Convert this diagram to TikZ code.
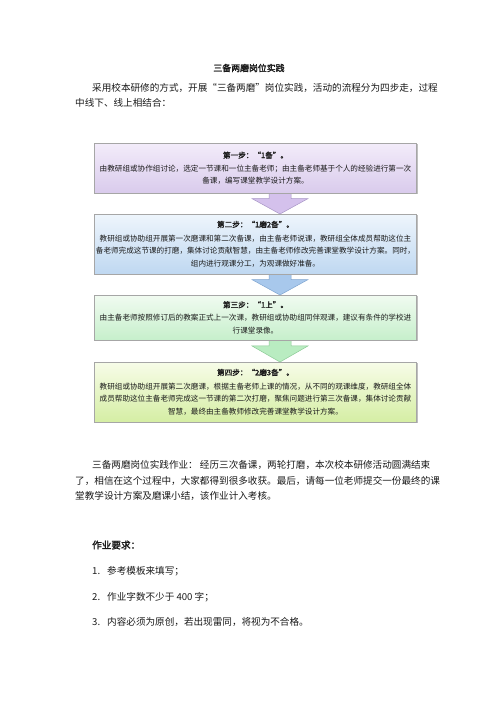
\documentclass[tikz,border=0pt]{standalone}
\usepackage{fontspec}
\setmainfont{Noto Sans CJK SC}[AutoFakeBold=2]
\usetikzlibrary{shadows,calc}
\definecolor{boxgray}{HTML}{A6A6A6}
\definecolor{pTop}{HTML}{F3ECFA}
\definecolor{pBot}{HTML}{D9CBEC}
\definecolor{bTop}{HTML}{EEF5FC}
\definecolor{bBot}{HTML}{BFD8F1}
\definecolor{gTop}{HTML}{F1FBF1}
\definecolor{gBot}{HTML}{C6EFCB}
\definecolor{yTop}{HTML}{F7FCE8}
\definecolor{yBot}{HTML}{D5EEA4}
\definecolor{pArr}{HTML}{D4C1EC}
\definecolor{pArrL}{HTML}{A896C6}
\definecolor{bArr}{HTML}{A8C8EC}
\definecolor{bArrL}{HTML}{7FA5D0}
\definecolor{gArr}{HTML}{B9ECC1}
\definecolor{gArrL}{HTML}{8CCB96}
\definecolor{txt}{HTML}{1A1A1A}
\newcommand{\blockarrow}[5]{%
  \filldraw[fill=#4, draw=#5, line width=0.5pt]
    (#1-11,#2) -- (#1+11,#2) -- (#1+11,#2+0.33*#3-0.33*#2) -- (#1+28,#2+0.33*#3-0.33*#2)
    -- (#1,#3) -- (#1-28,#2+0.33*#3-0.33*#2) -- (#1-11,#2+0.33*#3-0.33*#2) -- cycle;}
\begin{document}
\begin{tikzpicture}[x=1pt,y=-1pt,
  stepbox/.style={draw=boxgray, line width=0.5pt, minimum width=322pt, inner sep=0pt,
    align=center, text=txt, font=\fontsize{7.6}{12.5}\selectfont,
    drop shadow={shadow xshift=1.3pt, shadow yshift=-1.3pt, fill=black, opacity=0.25}},
  body/.style={anchor=west, inner sep=0pt, text=txt, font=\fontsize{9.6}{12}\selectfont},
  ttl/.style={anchor=center, inner sep=0pt, text=txt, font=\fontsize{8.9}{11}\selectfont\bfseries}]
\useasboundingbox[fill=white] (0,0) rectangle (496,702);

\node[ttl] (title) at (249,68) {三备两磨岗位实践};
\node[body] (p1) at (92,88) {采用校本研修的方式，开展“三备两磨”岗位实践，活动的流程分为四步走，过程};
\node[body] (p2) at (75,103) {中线下、线上相结合：};

% arrows (drawn behind the boxes)
\blockarrow{280}{191}{214}{pArr}{pArrL}
\blockarrow{280}{272}{295}{bArr}{bArrL}
\blockarrow{280}{338}{362}{gArr}{gArrL}

\node[stepbox, minimum height=50pt, top color=pTop, bottom color=pBot] (b1) at (255.5,168)
 {\textbf{第一步：“1备”。}\\[0.5pt]
  由教研组或协作组讨论，选定一节课和一位主备老师；由主备老师基于个人的经验进行第一次\\
  备课，编写课堂教学设计方案。};
\node[stepbox, minimum height=60pt, top color=bTop, bottom color=bBot] (b2) at (255.5,244)
 {\textbf{第二步：“1磨2备”。}\\[1.5pt]
  教研组或协助组开展第一次磨课和第二次备课，由主备老师说课，教研组全体成员帮助这位主\\
  备老师完成这节课的打磨，集体讨论贡献智慧，由主备老师修改完善课堂教学设计方案。同时，\\
  组内进行观课分工，为观课做好准备。};
\node[stepbox, minimum height=45pt, top color=gTop, bottom color=gBot] (b3) at (255.5,317.5)
 {\textbf{第三步：“1上”。}\\[0.5pt]
  由主备老师按照修订后的教案正式上一次课，教研组或协助组同伴观课，建议有条件的学校进\\
  行课堂录像。};
\node[stepbox, minimum height=60pt, top color=yTop, bottom color=yBot] (b4) at (255.5,392)
 {\textbf{第四步：“2磨3备”。}\\[1.5pt]
  教研组或协助组开展第二次磨课，根据主备老师上课的情况，从不同的观课维度，教研组全体\\
  成员帮助这位主备老师完成这一节课的第二次打磨，聚焦问题进行第三次备课，集体讨论贡献\\
  智慧，最终由主备教师修改完善课堂教学设计方案。};

\node[body] (q1) at (92,465) {三备两磨岗位实践作业： 经历三次备课，两轮打磨，本次校本研修活动圆满结束};
\node[body] (q2) at (75,481) {了，相信在这个过程中，大家都得到很多收获。最后，请每一位老师提交一份最终的课};
\node[body] (q3) at (75,496) {堂教学设计方案及磨课小结，该作业计入考核。};

\node[body, font=\fontsize{9.6}{12}\selectfont\bfseries] (req) at (92,545) {作业要求：};
\node[body] (n1) at (92,571) {1.};
\node[body] (t1) at (107,571) {参考模板来填写；};
\node[body] (n2) at (92,597) {2.};
\node[body] (t2) at (107,597) {作业字数不少于 400 字；};
\node[body] (n3) at (92,622) {3.};
\node[body] (t3) at (107,622) {内容必须为原创，若出现雷同，将视为不合格。};
\end{tikzpicture}
\end{document}
